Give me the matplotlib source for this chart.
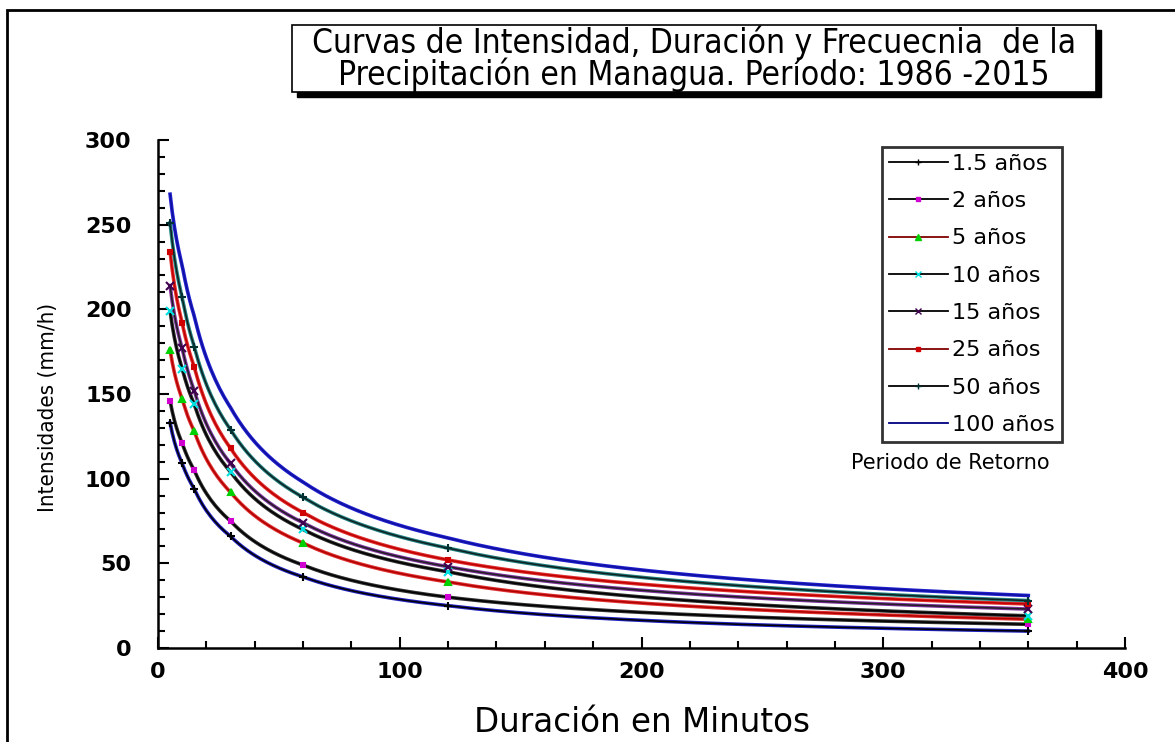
import numpy as np
import matplotlib
matplotlib.use("Agg")
import matplotlib.pyplot as plt
from matplotlib.patches import Rectangle
from matplotlib.lines import Line2D
from matplotlib.ticker import MultipleLocator

# duration in minutes and intensity (mm/h)
durations = [5, 10, 15, 30, 60, 120, 360]
labels = ["1.5 años", "2 años", "5 años", "10 años", "15 años", "25 años", "50 años", "100 años"]
i_1_5 = [133, 109, 94, 66, 42, 25, 10]
i_2 = [146, 121, 105, 75, 49, 30, 14]
i_5 = [176, 147, 128, 92, 62, 39, 17]
i_10 = [199, 165, 144, 104, 70, 45, 19]
i_15 = [214, 177, 152, 109, 74, 48, 23]
i_25 = [234, 192, 166, 118, 80, 52, 26]
i_50 = [251, 207, 178, 129, 89, 59, 28]
i_100 = [268, 226, 196, 142, 98, 65, 31]
series = [i_1_5, i_2, i_5, i_10, i_15, i_25, i_50, i_100]

# styles: line colour, fringe colour, marker, marker colour
line_colors = ["black", "black", "#b00000", "black", "#202020", "#c00000", "#102020", "#1010a0"]
fringe_colors = ["#2020c0", "#303030", "#e03030", "#303030", "#8030a0", "#e03030", "#208080", "#2020d0"]
markers = ["+", "s", "^", "x", "x", "s", "+", None]
marker_colors = ["black", "#d000d0", "#00d000", "#00e0e0", "#400050", "#d00000", "#003030", "navy"]
marker_sizes = [6, 3, 5, 6, 6, 3, 6, 0]
legend_line_colors = ["black", "black", "#800000", "black", "black", "#800000", "black", "#000080"]

plt.rcParams['font.family'] = ['DejaVu Sans']
narrow = dict(family=['DejaVu Sans'], stretch='condensed')

fig = plt.figure(figsize=(11.75, 7.42), dpi=100)
W, H = 1175.0, 742.0
ax = fig.add_axes([158 / W, 1 - 648 / H, (1125 - 158) / W, (648 - 140) / H])

# outer frame (right and bottom edges fall outside the picture)
fig.patches.append(Rectangle((7 / W, -0.05), 1.1, 1 - 10 / H + 0.05, transform=fig.transFigure,
                             fill=False, edgecolor="black", linewidth=2, zorder=0))

# smooth curves drawn through the points (linear in log-log space)
xs = np.linspace(durations[0], durations[-1], 400)
for k, vals in enumerate(series):
    ys = np.exp(np.interp(np.log(xs), np.log(durations), np.log(vals)))
    ax.plot(xs, ys, color=fringe_colors[k], linewidth=2.6, zorder=2)
    ax.plot(xs, ys, color=line_colors[k], linewidth=1.1, zorder=3)
    if markers[k]:
        ax.plot(durations, vals, linestyle="none", marker=markers[k], color=marker_colors[k],
                markersize=marker_sizes[k], markeredgewidth=1.5, zorder=4)

ax.set_xlim(0, 400)
ax.set_ylim(0, 300)
ax.xaxis.set_major_locator(MultipleLocator(100))
ax.xaxis.set_minor_locator(MultipleLocator(20))
ax.yaxis.set_major_locator(MultipleLocator(50))
ax.yaxis.set_minor_locator(MultipleLocator(10))
ax.tick_params(which="major", direction="in", length=8, width=1.5, labelsize=16, pad=10)
ax.tick_params(which="minor", direction="in", length=5, width=1.5)
ax.tick_params(axis="y", pad=19)
for lbl in ax.get_xticklabels() + ax.get_yticklabels():
    lbl.set_fontweight("bold")
for side in ["top", "right"]:
    ax.spines[side].set_visible(False)
for side in ["left", "bottom"]:
    ax.spines[side].set_linewidth(1.8)

ax.set_xlabel("Duración en Minutos", fontsize=23.5, labelpad=17)
ax.set_ylabel("Intensidades (mm/h)", fontsize=16, **narrow)
ax.yaxis.set_label_coords(-0.103, 0.474)

# legend
handles = []
for k in range(len(labels)):
    handles.append(Line2D([0], [0], color=legend_line_colors[k], linewidth=1.3,
                          marker=markers[k] if markers[k] else None, markersize=marker_sizes[k] * 0.8,
                          markerfacecolor=marker_colors[k], markeredgecolor=marker_colors[k]))
leg = ax.legend(handles, labels, loc="upper left", bbox_to_anchor=(882 / W, 1 - 147 / H),
                bbox_transform=fig.transFigure, fontsize=16, frameon=True, fancybox=False,
                handlelength=2.65, handletextpad=0.22, labelspacing=0.78, borderpad=0.3,
                borderaxespad=0)
leg.get_frame().set_edgecolor("black")
leg.get_frame().set_linewidth(2)
fig.text(950 / W, 1 - 463 / H, "Periodo de Retorno", ha="center", va="center", fontsize=15)

# title box with shadow
bx0, bx1, by0, by1 = 292 / W, 1096 / W, 1 - 92 / H, 1 - 25 / H
fig.patches.append(Rectangle((bx0 + 5 / W, by0 - 5 / H), bx1 - bx0, by1 - by0, transform=fig.transFigure,
                             facecolor="black", edgecolor="black", zorder=5))
fig.patches.append(Rectangle((bx0, by0), bx1 - bx0, by1 - by0, transform=fig.transFigure,
                             facecolor="white", edgecolor="black", linewidth=1.2, zorder=6))
fig.text((bx0 + bx1) / 2, 1 - 59 / H,
         "Curvas de Intensidad, Duración y Frecuecnia  de la\nPrecipitación en Managua. Período: 1986 -2015",
         ha="center", va="center", fontsize=24, linespacing=0.9, zorder=7, **narrow)

fig.savefig("out.png", dpi=100)
